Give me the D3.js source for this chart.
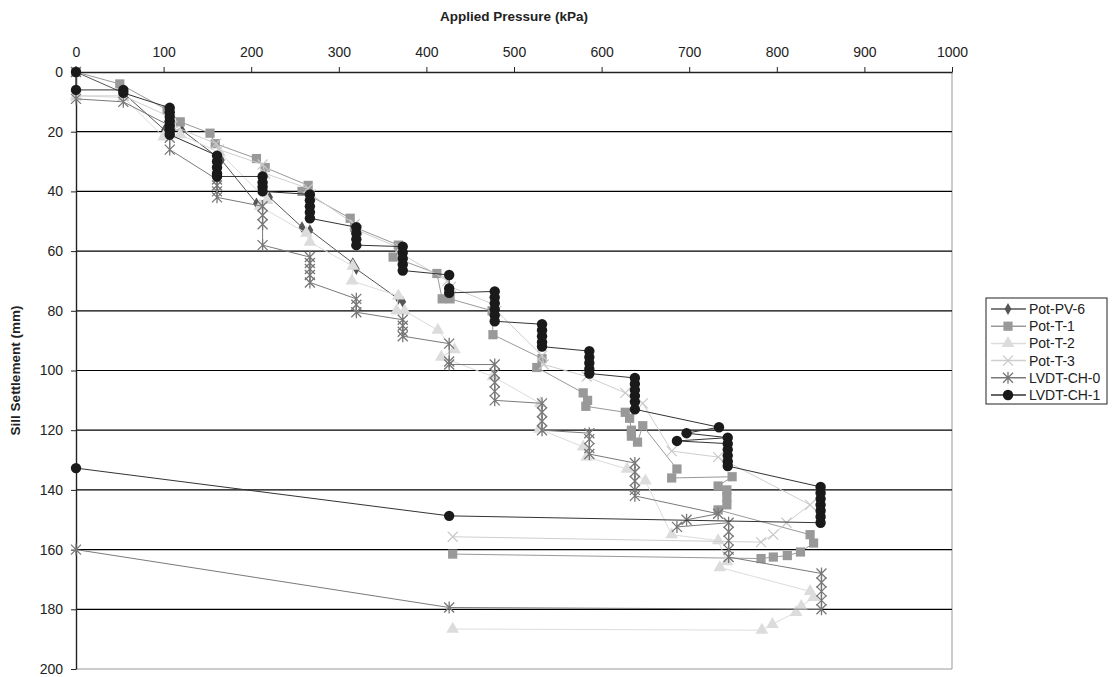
<!DOCTYPE html>
<html>
<head>
<meta charset="utf-8">
<script src="https://cdn.jsdelivr.net/npm/d3@7"></script>
<style>
  body { margin: 0; background: #fff; }
  text { font-family: "Liberation Sans", Arial, sans-serif; }
</style>
</head>
<body>
<svg id="chart" width="1117" height="677"></svg>
<script>
// [applied pressure kPa, sill settlement mm]
const potPV6 = [[0,0],[54,7],[101,19.4],[121,19.5],[166,29.5],[206,44],[221,42],[258,52],[267,53],[316,64],[320,66],[368,76],[373,77]];

const potT1 = [[0,0],[50,4],[104,12.7],[119,16.7],[153,20.5],[159,24],[206,29],[216,32],[265,38],[258,40],
  [313,49],[318,52],[368,58],[362,62],[412,67.5],[418,76],[427,76],[475,80],[476,88],[532,96],[526,99],
  [579,107.5],[584,110],[582,112],[627,114],[632,116],[634,120],[634,122],[641,124],[647,118.5],
  [686,133],[680,136],[749,135.6],[733,138.7],[743,140],[743,142.5],[743,145],[733,146.7],
  [838,155],[842,157.8],[827,160.8],[812,162],[796,162.5],[782,163],[430,161.5]];

const potT2 = [[0,8],[54,8.5],[100,21.7],[119,21],[164,27],[218,43],[210,45],[263,54],[267,57],
  [316,65],[315,70],[368,75],[366,80],[375,80],[413,86.5],[432,93],[417,95.5],[476,102],
  [530,111],[529,119.6],[579,125.6],[583,129],[629,133],[650,137],[680,155],[733,157],
  [743,164],[735,166],[838,174],[842,176],[828,179],[822,181],[795,185],[783,187],[430,186.6]];

const potT3 = [[0,8],[54,8],[107,15],[110,18],[160,24],[163,26],[213,31],[216,34],[265,39],[268,41],
  [318,51],[321,53],[370,59],[372,61],[424,70],[428,72],[478,78],[480,80],[532,95],[534,98],
  [583,102],[627,107.5],[647,111],[680,127],[733,129],[838,145],[811,151],[796,155],[782,157.5],[430,155.7]];

const lvdtCH0 = [[0,0],[0,9],[54,10],[107,18],[107,22],[107,26],[161,36],[161,38],[161,40],[161,42],
  [213,45],[213,48],[213,51],[213,58],[267,62],[267,64],[267,66],[267,68],[267,70.5],
  [320,76],[320,78],[320,80.5],[373,83],[373,85],[373,87],[373,88.5],[426,91],[426,97],[426,98],
  [478,98],[478,101],[478,104],[478,107],[478,110],[532,111],[532,114],[532,117],[532,120],
  [586,121],[586,123],[586,126],[586,128],[638,131],[638,134],[638,137],[638,140],[638,142],
  [733,148],[697,150],[686,152.4],[745,151],[745,154],[745,157],[745,160],[745,162.5],
  [851,168],[851,171],[851,174],[851,177],[851,180],[426,179.4],[0,160]];

const lvdtCH1 = [[0,0],[0,6],[54,6],[54,7],
  [107,12],[107,13.5],[107,15],[107,16.5],[107,18],[107,19.5],[107,21],
  [161,28],[161,30],[161,32],[161,34],[161,35],
  [213,35],[213,37],[213,38.5],[213,40],
  [267,41],[267,43],[267,45],[267,47],[267,49],
  [320,52],[320,54],[320,56],[320,58],
  [373,58.5],[373,60.5],[373,62.5],[373,64.5],[373,66.5],
  [426,68],[426,72.5],[426,74],
  [478,73.5],[478,75.5],[478,77.5],[478,79.5],[478,81.5],[478,83.5],
  [532,84.5],[532,86.5],[532,88.5],[532,90.5],[532,92],
  [586,93.5],[586,95.5],[586,97.5],[586,99.5],[586,101],
  [638,102.5],[638,104.5],[638,106.5],[638,108.5],[638,110.5],[638,113],
  [734,119],[697,121],[744,122.5],[686,123.6],[744,124.5],[744,126.5],[744,128.5],[744,130.5],[744,132],
  [850,139],[850,141],[850,143],[850,145],[850,147],[850,149],[850,151],
  [426,148.7],[0,132.7]];

const seriesNames = ['Pot-PV-6','Pot-T-1','Pot-T-2','Pot-T-3','LVDT-CH-0','LVDT-CH-1'];
const seriesData = [potPV6, potT1, potT2, potT3, lvdtCH0, lvdtCH1];
const xTicks = [0,100,200,300,400,500,600,700,800,900,1000];
const yTicks = [0,20,40,60,80,100,120,140,160,180,200];

// look of each series, in the order above
const styles = [
  {color:'#555555', line:'#555555', sym:d3.symbolDiamond, size:40},
  {color:'#999999', line:'#999999', sym:d3.symbolSquare, size:85},
  {color:'#dcdcdc', line:'#dcdcdc', sym:d3.symbolTriangle, size:70},
  {color:'#c8c8c8', line:'#cfcfcf', sym:'x', size:10},
  {color:'#777777', line:'#7a7a7a', sym:'star', size:10},
  {color:'#1a1a1a', line:'#333333', sym:d3.symbolCircle, size:85}
];

const svg = d3.select('#chart');
const plotL = 76, plotR = 952, plotT = 72, plotB = 669;

const x = d3.scaleLinear().domain([0,1000]).range([plotL,plotR]);
const y = d3.scaleLinear().domain([0,200]).range([plotT,plotB]);

// plot border (right and bottom edges are grey)
svg.append('line').attr('x1',plotR).attr('x2',plotR).attr('y1',plotT).attr('y2',plotB).attr('stroke','#999');
svg.append('line').attr('x1',plotL).attr('x2',plotR).attr('y1',plotB).attr('y2',plotB).attr('stroke','#999');

// horizontal gridlines
svg.append('g').selectAll('line')
  .data(yTicks.filter(t => t > 0 && t < 200))
  .enter().append('line')
  .attr('x1',plotL).attr('x2',plotR)
  .attr('y1',d => y(d)).attr('y2',d => y(d))
  .attr('stroke','#000').attr('stroke-width',1.2);

const xAxis = svg.append('g').attr('transform',`translate(0,${plotT})`)
  .call(d3.axisTop(x).tickValues(xTicks).tickFormat(d3.format('d'))
    .tickSize(5).tickSizeOuter(0).tickPadding(10));
const yAxis = svg.append('g').attr('transform',`translate(${plotL},0)`)
  .call(d3.axisLeft(y).tickValues(yTicks).tickFormat(d3.format('d'))
    .tickSize(5).tickSizeOuter(0).tickPadding(8));

[xAxis, yAxis].forEach(a => {
  a.selectAll('text').attr('font-size',14).attr('fill','#222')
    .attr('font-family','"Liberation Sans", Arial, sans-serif');
  a.selectAll('line').attr('stroke','#222');
  a.select('.domain').attr('stroke','#222').attr('stroke-width',1.4);
});

svg.append('text').attr('x',(plotL+plotR)/2).attr('y',21).attr('text-anchor','middle')
  .attr('font-size',13.5).attr('font-weight','bold').attr('fill','#222').text('Applied Pressure (kPa)');
svg.append('text').attr('transform',`translate(20,${(plotT+plotB)/2}) rotate(-90)`)
  .attr('text-anchor','middle').attr('font-size',13.5).attr('font-weight','bold').attr('fill','#222')
  .text('Sill Settlement (mm)');

function drawMarker(g, st) {
  if (st.sym === 'x') {
    const s = st.size/2;
    g.append('path').attr('d',`M${-s},${-s}L${s},${s}M${-s},${s}L${s},${-s}`)
      .attr('stroke',st.color).attr('stroke-width',1.2).attr('fill','none');
  } else if (st.sym === 'star') {
    const s = st.size/2;
    g.append('path').attr('d',`M${-s},${-s}L${s},${s}M${-s},${s}L${s},${-s}M0,${-s-1}L0,${s+1}`)
      .attr('stroke',st.color).attr('stroke-width',1.3).attr('fill','none');
  } else {
    g.append('path').attr('d',d3.symbol().type(st.sym).size(st.size)()).attr('fill',st.color);
  }
}

const lineGen = d3.line().x(d => x(d[0])).y(d => y(d[1]));

seriesData.forEach((data, i) => {
  const st = styles[i];
  const g = svg.append('g');
  g.append('path').attr('d',lineGen(data)).attr('fill','none')
    .attr('stroke',st.line).attr('stroke-width',1);
  g.selectAll('g.pt').data(data).enter().append('g')
    .attr('transform',d => `translate(${x(d[0])},${y(d[1])})`)
    .each(function() { drawMarker(d3.select(this), st); });
});

// legend
const lg = svg.append('g').attr('transform','translate(986,298)');
lg.append('rect').attr('width',121).attr('height',106).attr('fill','#fff').attr('stroke','#222');
seriesNames.forEach((name, i) => {
  const yy = 11 + i*17.2;
  const st = styles[i];
  lg.append('line').attr('x1',5).attr('x2',40).attr('y1',yy).attr('y2',yy)
    .attr('stroke',st.line).attr('stroke-width',1.5);
  drawMarker(lg.append('g').attr('transform',`translate(22,${yy})`), st);
  lg.append('text').attr('x',43).attr('y',yy+5).attr('font-size',14).attr('fill','#222').text(name);
});
</script>
</body>
</html>
